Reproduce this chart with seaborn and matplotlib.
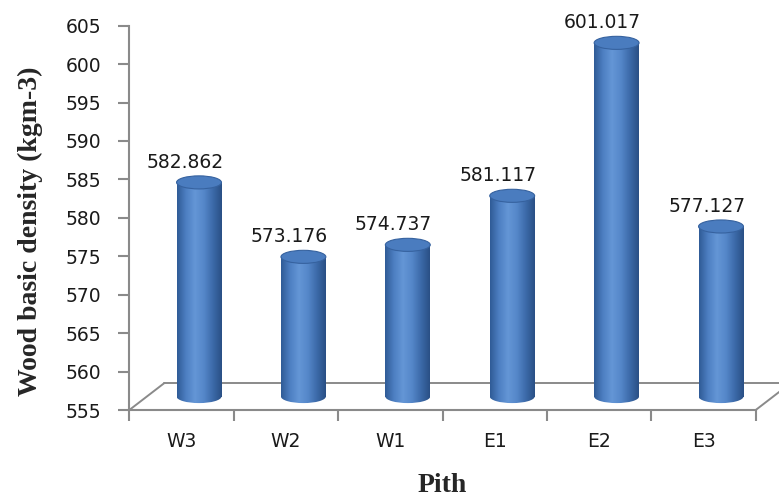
import numpy as np
import pandas as pd
import matplotlib.pyplot as plt
import seaborn as sns
from matplotlib.patches import Ellipse
from matplotlib.colors import LinearSegmentedColormap

# Data
pith = ['W3', 'W2', 'W1', 'E1', 'E2', 'E3']
density = [582.862, 573.176, 574.737, 581.117, 601.017, 577.127]
y_ticks = [555, 560, 565, 570, 575, 580, 585, 590, 595, 600, 605]

df = pd.DataFrame({'pith': pith, 'density': density})

base = 555
depth_x, depth_y = 0.335, 3.5          # floor depth (pseudo 3D), data units
shift_x, shift_y = depth_x / 2, depth_y / 2
bar_w = 0.43
cap_h = 1.7
grey = '#8a8a8a'

# horizontal shading for the cylinders
cyl_cmap = LinearSegmentedColormap.from_list(
    'cyl', ['#2f5b96', '#4d7fc2', '#6496d6', '#5587c9', '#3c6aa9', '#2a4f85'])
grad = np.linspace(0, 1, 256).reshape(1, -1)

sns.set_style('white')
fig = plt.figure(figsize=(7.79, 4.98), dpi=100)
ax = fig.add_axes([0.166, 0.1767, 0.8041, 0.7717])

sns.barplot(data=df, x='pith', y='density', width=bar_w, color='#4a7ec4',
            linewidth=0, ax=ax, zorder=3)

for i, (p, v) in enumerate(zip(ax.patches, density)):
    x0 = p.get_x() + shift_x
    p.set_x(x0)
    p.set_y(base + shift_y)
    p.set_height(v - base)
    cx = x0 + bar_w / 2
    # body
    ax.imshow(grad, cmap=cyl_cmap, aspect='auto', zorder=3.5,
              extent=[x0, x0 + bar_w, base + shift_y, v + shift_y])
    # rounded bottom
    bottom = Ellipse((cx, base + shift_y), bar_w, cap_h, fc='none', ec='none')
    ax.add_patch(bottom)
    im = ax.imshow(grad, cmap=cyl_cmap, aspect='auto', zorder=3.4,
                   extent=[x0, x0 + bar_w, base + shift_y - cap_h, base + shift_y + 0.1])
    im.set_clip_path(bottom)
    # top cap
    ax.add_patch(Ellipse((cx, v + shift_y), bar_w, cap_h, fc='#4a7cbf',
                         ec='#36629f', lw=0.8, zorder=5))
    ax.annotate(f'{v:.3f}', (i + 0.03, v + shift_y + cap_h / 2),
                xytext=(0, 3), textcoords='offset points',
                ha='center', va='bottom', fontsize=13.5, color='#1a1a1a')

# floor of the 3D plot
ax.plot([-0.5, -0.5 + depth_x], [base, base + depth_y], color=grey, lw=1.4,
        clip_on=False, zorder=1)
ax.plot([-0.5 + depth_x, 5.5 + depth_x], [base + depth_y] * 2, color=grey,
        lw=1.4, clip_on=False, zorder=1)
ax.plot([5.5, 5.5 + depth_x], [base, base + depth_y], color=grey, lw=1.4,
        clip_on=False, zorder=1)

ax.set_xlim(-0.5, 5.5)
ax.set_ylim(555, 605)
ax.set_yticks(y_ticks)
ax.set_xticks(range(len(pith)))
ax.set_xticklabels(pith)
ax.set_xticks(np.arange(-0.5, 6, 1), minor=True)

sns.despine(ax=ax)
for side in ['left', 'bottom']:
    ax.spines[side].set_color(grey)
    ax.spines[side].set_linewidth(1.5)

ax.tick_params(axis='y', length=8, width=1.5, color=grey, pad=12,
               labelsize=13.5, labelcolor='#1a1a1a', left=True)
ax.tick_params(axis='x', which='major', length=0, pad=16, labelsize=13.5,
               labelcolor='#1a1a1a')
ax.tick_params(axis='x', which='minor', length=8, width=1.5, color=grey,
               bottom=True)

ax.set_ylabel('Wood basic density (kgm-3)', fontsize=20, fontweight='bold',
              family='Liberation Serif')
ax.yaxis.set_label_coords(-0.137, 0.465)
ax.set_xlabel('Pith', fontsize=20, fontweight='bold',
              family='Liberation Serif', labelpad=16)

fig.savefig('out.png', dpi=100)
